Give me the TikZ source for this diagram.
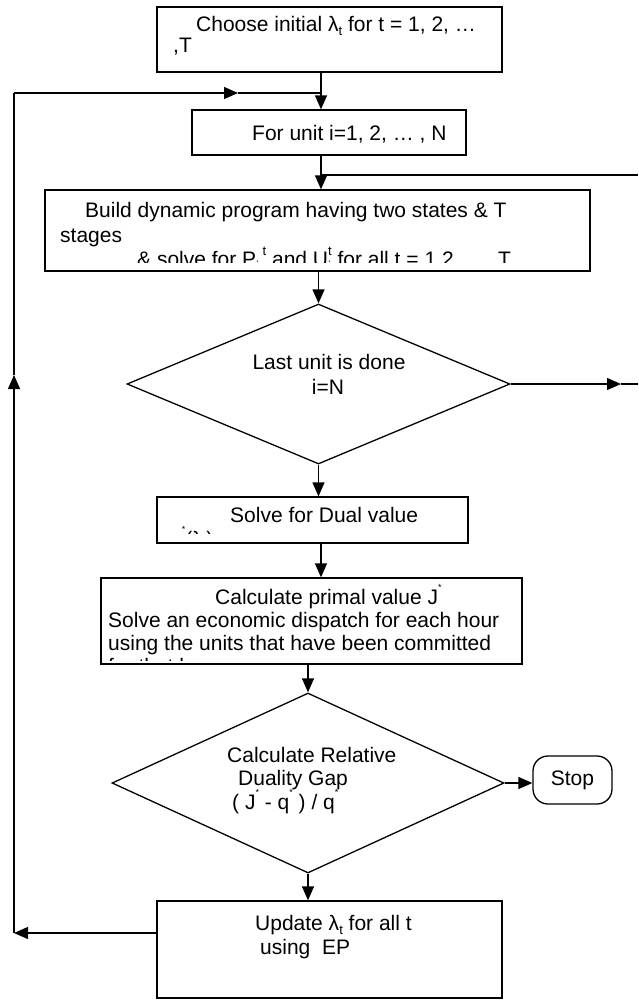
\documentclass[tikz,border=0pt]{standalone}
\usepackage{fontspec}
\setmainfont{Liberation Sans}
\usetikzlibrary{arrows.meta,shapes.geometric}

% small raised / lowered indices set in the text font
\newcommand\lo[1]{\raisebox{-0.22em}{\fontsize{13}{13}\selectfont #1}}
\newcommand\hi[1]{\raisebox{0.5em}{\fontsize{13}{13}\selectfont #1}}
\newcommand\st{\raisebox{0.62em}{\fontsize{9}{9}\selectfont *}}

\begin{document}
\begin{tikzpicture}[x=1pt,y=-1pt,
  every node/.style={font=\fontsize{21}{24}\selectfont},
  box/.style={draw, rectangle, line width=1.3pt, inner sep=0pt},
  decision/.style={draw, diamond, line width=1.3pt, inner sep=0pt},
  terminal/.style={draw, rectangle, rounded corners=15pt, line width=1.3pt, inner sep=0pt},
  txt/.style={anchor=base west, inner sep=0pt},
  ctxt/.style={anchor=base, inner sep=0pt},
  arr/.style={line width=1.3pt, -{Triangle[length=14pt,width=12pt]}},
  line/.style={line width=1.3pt}]
\useasboundingbox (0,0) rectangle (638,1005);

% ---- process boxes ----
\node[box, minimum width=345pt, minimum height=65pt] (init)   at (329.5,39.5) {};
\node[box, minimum width=274pt, minimum height=45pt] (unit)   at (329,132.5) {};
\node[box, minimum width=545pt, minimum height=81pt] (dp)     at (317.5,230.5) {};
\node[decision, minimum width=383pt, minimum height=160pt] (last) at (318.5,384) {};
\node[box, minimum width=311pt, minimum height=46pt] (dual)   at (312.5,520) {};
\node[box, minimum width=421pt, minimum height=86pt] (primal) at (311.5,621) {};
\node[decision, minimum width=392pt, minimum height=180pt] (gap) at (308,783) {};
\node[terminal, minimum width=79pt, minimum height=48pt] (stop) at (572.5,780) {Stop};
\node[box, minimum width=345pt, minimum height=97pt] (upd)    at (329.5,949.5) {};

% ---- box texts ----
\node[txt] (initA) at (196,31) {Choose initial λ\lo{t} for t = 1, 2, …};
\node[txt] (initB) at (173,52) {,T};
\node[txt] (unitA) at (252,140) {For unit i=1, 2, … , N};

\node[txt] (dpA) at (85,217) {Build dynamic program having two states \& T};
\node[txt] (dpB) at (60,242) {stages};
\begin{scope}
  \clip ([yshift=9.5pt]dp.south west) rectangle (dp.north east);
  \node[txt] (dpC) at (137,266) {\& solve for P\lo{i}\,\hi{t} and U\makebox[0pt][l]{\lo{i}}\hi{t} for all t = 1,2, …, T};
\end{scope}

\node[ctxt] (lastA) at (329,369) {Last unit is done};
\node[ctxt] (lastB) at (328,394) {i=N};

\node[txt] (dualA) at (230,522) {Solve for Dual value};
\begin{scope}
  \clip ([yshift=10pt]dual.south west) rectangle (dual.north east);
  \node[txt] (dualB) at (170,546) {q\st(λ\lo{t})};
\end{scope}

\node[txt] (primA) at (215,604) {Calculate primal value J\st};
\node[txt] (primB) at (108,627) {Solve an economic dispatch for each hour};
\node[txt] (primC) at (108,650) {using the units that have been committed};
\begin{scope}
  \clip ([yshift=4pt]primal.south west) rectangle (primal.north east);
  \node[txt] (primD) at (108,673) {for that hour};
\end{scope}

\node[txt] (gapA) at (227,762) {Calculate Relative};
\node[txt] (gapB) at (238,785) {Duality Gap};
\node[txt] (gapC) at (232,809) {( J\st\ - q\st\ ) / q\st};

\node[txt] (updA) at (255,930) {Update λ\lo{t} for all t};
\node[txt] (updB) at (260,954) {using\ \ EP};

% ---- routing points ----
\coordinate (sx)   at (321,0);
\coordinate (rx)   at (638,0);
\coordinate (rtop) at (638,175);
\coordinate (lx)   at (14,0);
\coordinate (lmid) at (14,375);
\coordinate (ltop) at (14,93);
\coordinate (tmid) at (238,93);
\coordinate (rtip) at (621,384);

% ---- main flow ----
\draw[arr] (init.south -| sx) -- (unit.north -| sx);
\draw[arr] (unit.south -| sx) -- (dp.north -| sx);
\draw[arr] (dp.south -| last.north) -- (last.north);
\draw[arr] (last.south) -- (dual.north -| last.south);
\draw[arr] (dual.south -| sx) -- (primal.north -| sx);
\draw[arr] (primal.south -| gap.north) -- (gap.north);
\draw[arr] (gap.south) -- (upd.north -| gap.south);
\draw[arr] (gap.east) -- (gap.east -| stop.west);

% ---- loop over units (right side) ----
\draw[arr] (last.east) -- (rtip);
\draw[line] (rtip) -- (last.east -| rx);
\draw[line] (rtop) -- (rtop -| sx);

% ---- multiplier update loop (left side) ----
\draw[arr] ([yshift=16.5pt]upd.west) -- ([yshift=16.5pt]upd.west -| lx);
\draw[arr] ([yshift=16.5pt]upd.west -| lx) -- (lmid);
\draw[line] (lmid) -- (ltop);
\draw[arr] (ltop) -- (tmid);
\draw[line] (tmid) -- (ltop -| sx);
\end{tikzpicture}
\end{document}
